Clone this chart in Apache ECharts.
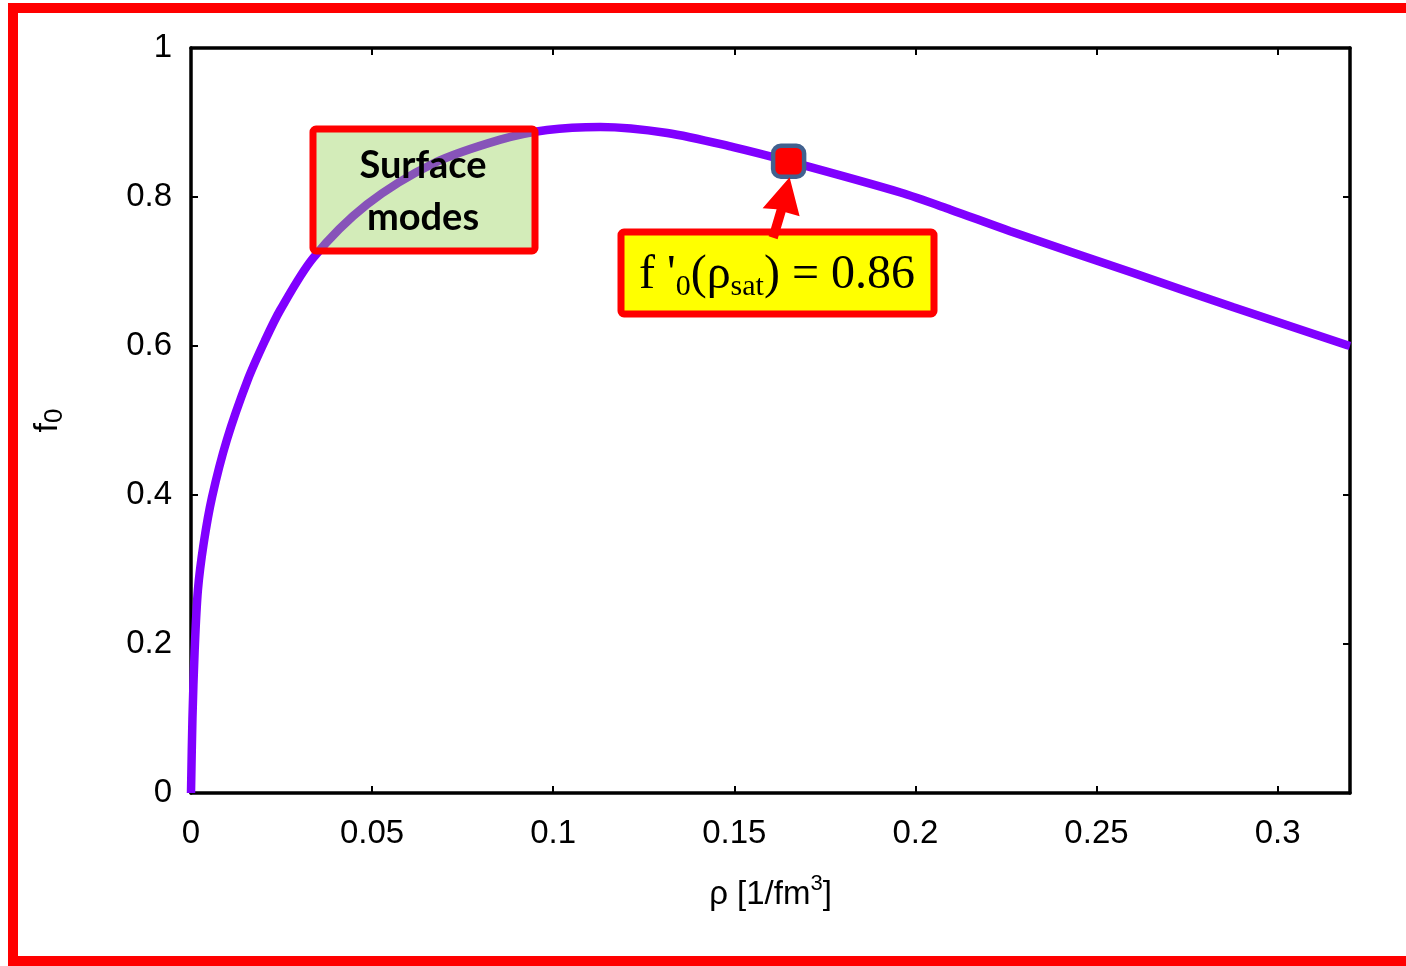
<!DOCTYPE html>
<html>
<head>
<meta charset="utf-8">
<script src="https://cdn.jsdelivr.net/npm/echarts@6/dist/echarts.min.js"></script>
<style>
html,body{margin:0;padding:0;background:#fff;}
#chart{width:1406px;height:966px;}
</style>
</head>
<body>
<div id="chart"></div>
<script>
// ---- data ----
const rho = [0, 0.0004, 0.001, 0.0019, 0.0035, 0.0058, 0.0099, 0.0157, 0.0204, 0.0246, 0.0337, 0.0486, 0.0669, 0.0854, 0.0983, 0.113, 0.1315, 0.1497, 0.165, 0.1959, 0.2097, 0.2262, 0.2602, 0.2878, 0.3193, 0.32];
const f0  = [0, 0.10, 0.19, 0.272, 0.335, 0.397, 0.474, 0.555, 0.607, 0.648, 0.718, 0.790, 0.845, 0.877, 0.890, 0.894, 0.886, 0.867, 0.848, 0.806, 0.783, 0.754, 0.698, 0.652, 0.601, 0.600];
const satRho = [0.165];
const satF0 = [0.848];
const xTicks = ['0', '0.05', '0.1', '0.15', '0.2', '0.25', '0.3'];
const yTicks = ['0', '0.2', '0.4', '0.6', '0.8', '1'];
const boxLabel = ['Surface', 'modes'];

const chart = echarts.init(document.getElementById('chart'), null, {renderer: 'canvas'});
const axisFont = {fontFamily: 'Liberation Sans', fontSize: 33, color: '#000'};
const xFmt = v => { const i = Math.round(v / 0.05); return (Math.abs(v - i * 0.05) < 1e-9 && xTicks[i] !== undefined) ? xTicks[i] : ''; };
const yFmt = v => { const i = Math.round(v / 0.2); return (Math.abs(v - i * 0.2) < 1e-9 && yTicks[i] !== undefined) ? yTicks[i] : ''; };
const lineSt = {show: true, onZero: false, lineStyle: {color: '#000', width: 3.5}};
const tickSt = {show: true, inside: true, length: 7, lineStyle: {color: '#000', width: 2}};

const option = {
  animation: false,
  backgroundColor: '#fff',
  grid: {left: 191, right: 56, top: 48, bottom: 173, show: false},
  xAxis: [{
    type: 'value', min: 0, max: 0.32, interval: 0.05,
    axisLine: lineSt, axisTick: tickSt,
    axisLabel: Object.assign({margin: 24, formatter: xFmt, showMaxLabel: false}, axisFont),
    splitLine: {show: false},
    name: '{a|ρ [1/fm}{s|3}{a|]}',
    nameLocation: 'middle', nameGap: 80,
    nameTextStyle: {rich: {
      a: {fontFamily: 'Liberation Sans', fontSize: 33, color: '#000', verticalAlign: 'bottom', lineHeight: 38},
      s: {fontFamily: 'Liberation Sans', fontSize: 22, color: '#000', verticalAlign: 'top', lineHeight: 38, padding: [0,0,14,0]}
    }}
  }, {
    type: 'value', min: 0, max: 0.32, interval: 0.05, position: 'top',
    axisLine: lineSt, axisTick: tickSt,
    axisLabel: {show: false}, splitLine: {show: false}
  }],
  yAxis: [{
    type: 'value', min: 0, max: 1, interval: 0.2,
    axisLine: lineSt, axisTick: tickSt,
    axisLabel: Object.assign({margin: 19, formatter: yFmt}, axisFont),
    splitLine: {show: false},
    name: '{a|f}{s|0}',
    nameLocation: 'middle', nameGap: 124, nameRotate: 90,
    nameTextStyle: {rich: {
      a: {fontFamily: 'Liberation Sans', fontSize: 34, color: '#000', lineHeight: 38},
      s: {fontFamily: 'Liberation Sans', fontSize: 26, color: '#000', lineHeight: 38, padding: [14,0,0,0]}
    }}
  }, {
    type: 'value', min: 0, max: 1, interval: 0.2, position: 'right',
    axisLine: lineSt, axisTick: tickSt,
    axisLabel: {show: false}, splitLine: {show: false}
  }],
  series: [{
    type: 'line',
    data: rho.map((x, i) => [x, f0[i]]),
    showSymbol: false,
    smooth: 0.3,
    lineStyle: {color: '#8000ff', width: 8.5},
    z: 3
  }, {
    type: 'scatter',
    data: satRho.map((x, i) => [x, satF0[i]]),
    symbol: 'roundRect',
    symbolSize: 31,
    itemStyle: {color: '#ff0000', borderColor: '#41618f', borderWidth: 4.5, opacity: 1},
    z: 10
  }]
};
chart.setOption(option);

const p = chart.convertToPixel({gridIndex: 0}, [satRho[0], satF0[0]]);
chart.setOption({
  graphic: [
    // outer frame
    {type: 'rect', z: 200, shape: {x: 13, y: 8, width: 1420, height: 953}, style: {fill: null, stroke: '#ff0000', lineWidth: 10}},
    // green box
    {type: 'rect', z: 100, shape: {x: 313, y: 129, width: 222, height: 122, r: 3},
     style: {fill: 'rgba(146,208,80,0.4)', stroke: '#ff0000', lineWidth: 7}},
    {type: 'text', z: 101, style: {x: 423, y: 192, text: boxLabel.join('\n'), font: 'bold 38px Lato', fill: '#000', align: 'center', verticalAlign: 'middle', lineHeight: 52}},
    // yellow box
    {type: 'rect', z: 100, shape: {x: 621, y: 232, width: 313, height: 82, r: 3},
     style: {fill: '#ffff00', stroke: '#ff0000', lineWidth: 7}},
    {type: 'text', z: 101, style: {x: 777, y: 275, align: 'center', verticalAlign: 'middle',
      text: "{m|f '}{s|0}{m|(ρ}{s|sat}{m|) = 0.86}",
      rich: {
        m: {font: '48px "Liberation Serif"', fill: '#000', lineHeight: 54},
        s: {font: '30px "Liberation Serif"', fill: '#000', lineHeight: 54, padding: [24,0,0,0]}
      }}},
    // arrow
    {type: 'polygon', z: 100, shape: {points: [
      [p[0] + 1, p[1] + 16], [p[0] + 11, p[1] + 55], [p[0] - 3, p[1] + 51],
      [p[0] - 11, p[1] + 78], [p[0] - 20, p[1] + 75], [p[0] - 12, p[1] + 48], [p[0] - 26, p[1] + 47]
    ]}, style: {fill: '#ff0000'}}
  ]
});
</script>
</body>
</html>
